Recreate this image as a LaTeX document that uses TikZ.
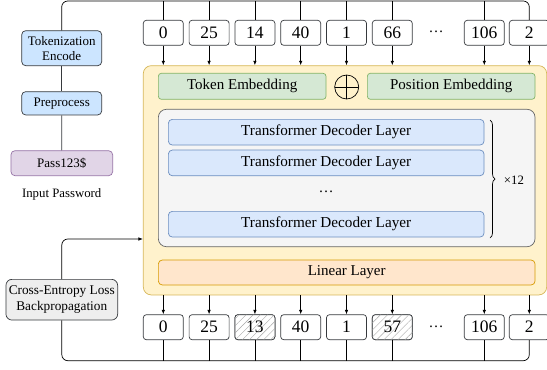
\documentclass[tikz,border=0pt]{standalone}
\usepackage{fontspec}
\setmainfont{Liberation Serif}
\usetikzlibrary{positioning,arrows.meta,patterns.meta,decorations.pathreplacing}

\definecolor{inkline}{HTML}{36393D}
\definecolor{prefill}{HTML}{CCE5FF}
\definecolor{blufill}{HTML}{DAE8FC}
\definecolor{bluline}{HTML}{6C8EBF}
\definecolor{grnfill}{HTML}{D5E8D4}
\definecolor{grnline}{HTML}{82B366}
\definecolor{yelfill}{HTML}{FFF2CC}
\definecolor{yelline}{HTML}{D6B656}
\definecolor{orafill}{HTML}{FFE6CC}
\definecolor{oraline}{HTML}{D79B00}
\definecolor{purfill}{HTML}{E1D5E7}
\definecolor{purline}{HTML}{9673A6}
\definecolor{gryfill}{HTML}{F5F5F5}
\definecolor{gryline}{HTML}{666666}
\definecolor{lossfill}{HTML}{EEEEEE}

\begin{document}
\begin{tikzpicture}[x=1pt,y=-1pt,
>={Latex[length=4.5pt,width=3.5pt]},
every node/.style={inner sep=0pt, line width=0.7pt},
tokbox/.style={rectangle, rounded corners=3pt, draw=inkline, fill=white, minimum width=40pt, minimum height=25pt, font=\fontsize{17.5}{17.5}\selectfont},
maskbox/.style={tokbox, postaction={pattern={Lines[angle=45,distance=5pt,line width=0.4pt]}, pattern color=gray!70}},
prebox/.style={rectangle, rounded corners=4pt, draw=inkline, fill=prefill, minimum width=80pt, align=center, font=\fontsize{13}{15}\selectfont},
embbox/.style={rectangle, rounded corners=3pt, draw=grnline, fill=grnfill, minimum width=167.7pt, minimum height=26pt, font=\fontsize{15}{15}\selectfont},
layerbox/.style={rectangle, rounded corners=4pt, draw=bluline, fill=blufill, minimum width=315.7pt, minimum height=25.7pt, font=\fontsize{15.2}{15}\selectfont},
]
\useasboundingbox (0,0) rectangle (547,370);

%Nodes
\node[rectangle, rounded corners=8pt, draw=yelline, fill=yelfill, minimum width=403.4pt, minimum height=229.3pt](model) at (345,180.3){};
\node[embbox](tokemb) at (242.2,86.3){Token Embedding};
\node[embbox](posemb) at (451.2,86.3){Position Embedding};
\node[circle, draw=black, minimum size=24pt, path picture={
  \draw[line width=0.7pt] (path picture bounding box.north) -- (path picture bounding box.south)
    (path picture bounding box.west) -- (path picture bounding box.east);}](plus) at (346.7,87){};

\node[rectangle, rounded corners=8pt, draw=gryline, fill=gryfill, minimum width=376.7pt, minimum height=137.4pt](stack) at (346.7,178){};
\node[layerbox](dec1) at (326.2,132.2){Transformer Decoder Layer};
\node[layerbox](dec2) at (326.2,162.9){Transformer Decoder Layer};
\node[font=\fontsize{15}{15}\selectfont](decdots) at (326.2,192){…};
\node[layerbox](dec3) at (326.2,224.2){Transformer Decoder Layer};
\node[font=\fontsize{12.8}{15}\selectfont](reps) at (514,180){×12};

\node[rectangle, rounded corners=4pt, draw=oraline, fill=orafill, minimum width=376.7pt, minimum height=25pt, font=\fontsize{15}{15}\selectfont](linear) at (346.7,272.5){Linear Layer};

% input and target tokens
\foreach \v [count=\i] in {0,25,14,40,1,66}
  \node[tokbox](t\i) at (163.3+45.8*\i-45.8,32.8){\v};
\node[tokbox](t7) at (484.3,32.8){106};
\node[tokbox](t8) at (529.3,32.8){2};
\node[font=\fontsize{15}{15}\selectfont](tdots) at (436,32){…};

\foreach \v [count=\i] in {0,25,13,40,1,57}
  \node[tokbox](b\i) at (163.3+45.8*\i-45.8,327.2){\v};
\node[maskbox] at (b3){13};
\node[maskbox] at (b6){57};
\node[tokbox](b7) at (484.3,327.2){106};
\node[tokbox](b8) at (529.3,327.2){2};
\node[font=\fontsize{15}{15}\selectfont](bdots) at (436,326.5){…};

% left column
\node[prebox, minimum height=35pt](encode) at (61.7,48.2){Tokenization\\Encode};
\node[prebox, minimum height=23.3pt](prep) at (61.7,103.3){Preprocess};
\node[rectangle, rounded corners=4pt, draw=purline, fill=purfill, minimum width=101.7pt, minimum height=25pt, font=\fontsize{13}{15}\selectfont](pwd) at (61.8,163.2){Pass123\$};
\node[font=\fontsize{12.8}{15}\selectfont](pwdlabel) at (61.7,194.3){Input Password};
\node[rectangle, rounded corners=6pt, draw=inkline, fill=lossfill, minimum width=111.7pt, minimum height=40.7pt, align=center, font=\fontsize{13.3}{15.5}\selectfont](loss) at (61.8,299.7){Cross-Entropy Loss\\Backpropagation};

\coordinate (topbus) at (0,1);
\coordinate (botbus) at (0,360.7);
\coordinate (fback) at (0,239);

%Lines
\draw[line width=0.7pt, inkline] (pwd) -- (prep);
\draw[line width=0.7pt, inkline] (prep) -- (encode);
\draw[line width=0.7pt, rounded corners=6pt] (encode.north) -- (encode.north |- topbus) -- (t8.north |- topbus) -- (t8.north);
\foreach \i in {1,...,7}
  \draw[line width=0.7pt] (t\i.north) -- (t\i.north |- topbus);
\foreach \i in {1,...,8}
  \draw[line width=0.7pt,->] (t\i.south) -- (t\i.south |- model.north);
\foreach \i in {1,...,8}
  \draw[line width=0.7pt,->] (b\i.north |- model.south) -- (b\i.north);
\draw[line width=0.7pt, rounded corners=6pt] (b8.south) -- (b8.south |- botbus) -- (loss.south |- botbus) -- (loss.south);
\foreach \i in {1,...,7}
  \draw[line width=0.7pt] (b\i.south) -- (b\i.south |- botbus);
\draw[line width=0.7pt, rounded corners=6pt,->] (loss.north) -- (loss.north |- fback) -- (model.west |- fback);
\draw[line width=0.7pt, decorate, decoration={brace, amplitude=5pt}] (490,120) -- (490,238);

\end{tikzpicture}
\end{document}
